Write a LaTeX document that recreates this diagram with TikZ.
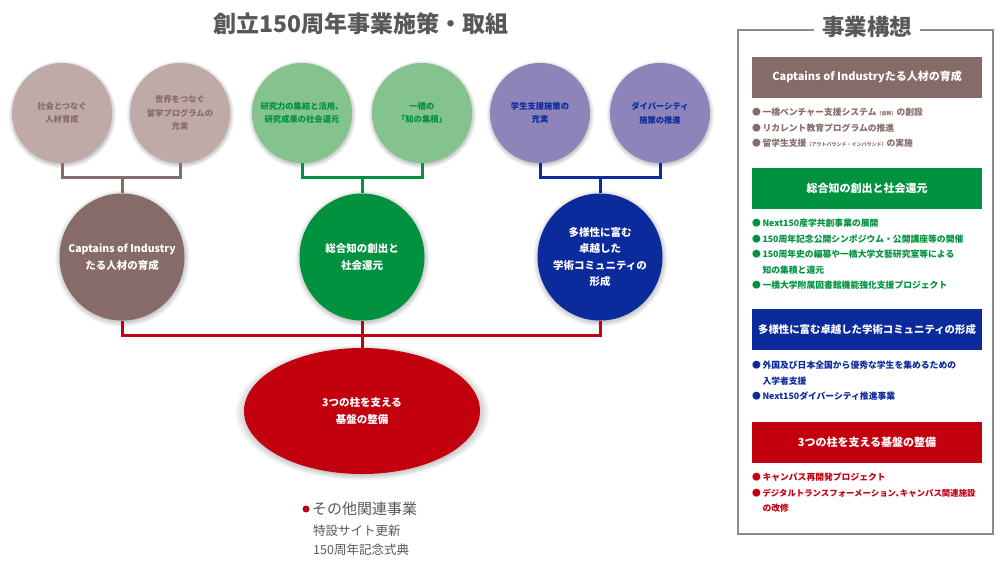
\documentclass[tikz,border=0pt]{standalone}
\usepackage{fontspec}
\setmainfont{Noto Sans CJK JP}
\usepackage{xcolor}
\usepackage{tikz}
\usetikzlibrary{shapes.geometric,shadows,fadings}
\definecolor{brownmain}{HTML}{876B69}
\definecolor{brownpale}{HTML}{C0AAA8}
\definecolor{greenmain}{HTML}{00923F}
\definecolor{greenpale}{HTML}{84C28E}
\definecolor{bluemain}{HTML}{0B2A9C}
\definecolor{bluepale}{HTML}{8E84BA}
\definecolor{redmain}{HTML}{C3000E}
\definecolor{textgray}{HTML}{595757}
\definecolor{framegray}{HTML}{8C8C8C}
\newcommand{\bul}{●\hspace{1.5pt}}
\newcommand{\bulsp}{\phantom{●}\hspace{1.5pt}}
\newcommand{\smallnote}[1]{{\fontsize{5}{5}\selectfont #1}}

\tikzset{
  halo/.style={circular drop shadow={shadow xshift=0pt,shadow yshift=-1pt,shadow scale=1.08,opacity=0.7}},
  topcircle/.style={circle,minimum size=100pt,inner sep=0pt,halo,align=center,
    font=\bfseries\fontsize{8.3}{13.5}\selectfont},
  pillar/.style={ellipse,minimum width=125pt,minimum height=127pt,inner sep=0pt,halo},
  pillartext/.style={align=center,text=white,inner sep=0pt,font=\bfseries\fontsize{10.5}{16.5}\selectfont},
  link/.style={line width=3pt},
  headbox/.style={minimum width=230pt,minimum height=41pt,inner sep=0pt,text=white,
    font=\bfseries\fontsize{11}{13}\selectfont},
  % anchored at the baseline of the last line
  itemlist/.style={anchor=base west,align=left,inner sep=0pt,
    font=\bfseries\fontsize{8.8}{15.5}\selectfont},
}

\begin{document}
\begin{tikzpicture}[x=1pt,y=-1pt]
  \useasboundingbox (0,0) rectangle (1000,563);
  \node[text=textgray,font=\bfseries\fontsize{23}{25}\selectfont] (title) at (361,24) {創立150周年事業施策・取組};

  % top row
  \node[topcircle,fill=brownpale,text=brownmain] (social) at (62,113) {社会とつなぐ\\人材育成};
  \node[topcircle,fill=brownpale,text=brownmain] (global) at (180,113) {世界をつなぐ\\留学プログラムの\\充実};
  \node[topcircle,fill=greenpale,text=greenmain] (research) at (302,113) {研究力の集結と活用、\\研究成果の社会還元};
  \node[topcircle,fill=greenpale,text=greenmain] (wisdom) at (422,113) {一橋の\\「知の集積」};
  \node[topcircle,fill=bluepale,text=bluemain] (support) at (540,113) {学生支援施策の\\充実};
  \node[topcircle,fill=bluepale,text=bluemain] (diversity) at (660,113) {ダイバーシティ\\施策の推進};

  % three pillars
  \node[pillar,fill=brownmain,label={[pillartext]center:{Captains of Industry\\たる人材の育成}}] (captains) at (122,257) {};
  \node[pillar,fill=greenmain,label={[pillartext]center:{総合知の創出と\\社会還元}}] (sogochi) at (362,257) {};
  \node[pillar,fill=bluemain,label={[pillartext]center:{多様性に富む\\卓越した\\学術コミュニティの\\形成}}] (tayosei) at (600,257) {};

  % base
  \node[ellipse,minimum width=236pt,minimum height=126pt,inner sep=0pt,halo,fill=redmain,
    label={[pillartext]center:{3つの柱を支える\\基盤の整備}}] (kiban) at (362,411) {};

  \draw[link,brownmain] (social.south) -- ++(0,14) coordinate (brownbar) -| (global.south);
  \draw[link,brownmain] (captains.north) -- (captains.north |- brownbar);
  \draw[link,greenmain] (research.south) -- ++(0,14) coordinate (greenbar) -| (wisdom.south);
  \draw[link,greenmain] (sogochi.north) -- (sogochi.north |- greenbar);
  \draw[link,bluemain] (support.south) -- ++(0,14) coordinate (bluebar) -| (diversity.south);
  \draw[link,bluemain] (tayosei.north) -- (tayosei.north |- bluebar);
  \draw[link,redmain] (captains.south) -- ++(0,15) coordinate (redbar) -| (tayosei.south);
  \draw[link,redmain] (sogochi.south) -- (kiban.north);

  % other
  \node[circle,fill=redmain,minimum size=7pt,inner sep=0pt] (otherdot) at (306,509) {};
  \node[anchor=west,inner sep=0pt,text=textgray,font=\fontsize{15}{17}\selectfont] (other) at (312,509) {その他関連事業};
  \node[anchor=west,inner sep=0pt,text=textgray,font=\fontsize{12.5}{14}\selectfont] (other1) at (313,531) {特設サイト更新};
  \node[anchor=west,inner sep=0pt,text=textgray,font=\fontsize{12.5}{14}\selectfont] (other2) at (313,550) {150周年記念式典};

  % right panel
  \draw[framegray,line width=1.2pt] (738,30) rectangle (993,534);
  \node[fill=white,inner xsep=8pt,text=textgray,font=\bfseries\fontsize{22.5}{24}\selectfont] (plan) at (867,27) {事業構想};

  \node[headbox,fill=brownmain] (caphead) at (867,77) {Captains of Industryたる人材の育成};
  \node[itemlist,text=brownmain] (capitems) at (752,146.5) {\bul 一橋ベンチャー支援システム\smallnote{（仮称）}の創設\\
    \bul リカレント教育プログラムの推進\\
    \bul 留学生支援\smallnote{（アウトバウンド・インバウンド）}の実施};

  \node[headbox,fill=greenmain] (sogohead) at (867,188.5) {総合知の創出と社会還元};
  \node[itemlist,text=greenmain] (sogoitems) at (752,288.5) {\bul Next150産学共創事業の展開\\
    \bul 150周年記念公開シンポジウム・公開講座等の開催\\
    \bul 150周年史の編纂や一橋大学文藝研究室等による\\
    \bulsp 知の集積と還元\\
    \bul 一橋大学附属図書館機能強化支援プロジェクト};

  \node[headbox,fill=bluemain,font=\bfseries\fontsize{10.4}{13}\selectfont] (tayohead) at (867,329.5) {多様性に富む卓越した学術コミュニティの形成};
  \node[itemlist,text=bluemain] (tayoitems) at (752,399.5) {\bul 外国及び日本全国から優秀な学生を集めるための\\
    \bulsp 入学者支援\\
    \bul Next150ダイバーシティ推進事業};

  \node[headbox,fill=redmain] (kibanhead) at (867,442.5) {3つの柱を支える基盤の整備};
  \node[itemlist,text=redmain] (kibanitems) at (752,511.5) {\bul キャンパス再開発プロジェクト\\
    \bul {\fontsize{8.4}{15.5}\selectfont デジタルトランスフォーメーション、\kern-4pt キャンパス関連施設}\\
    \bulsp の改修};
\end{tikzpicture}
\end{document}
